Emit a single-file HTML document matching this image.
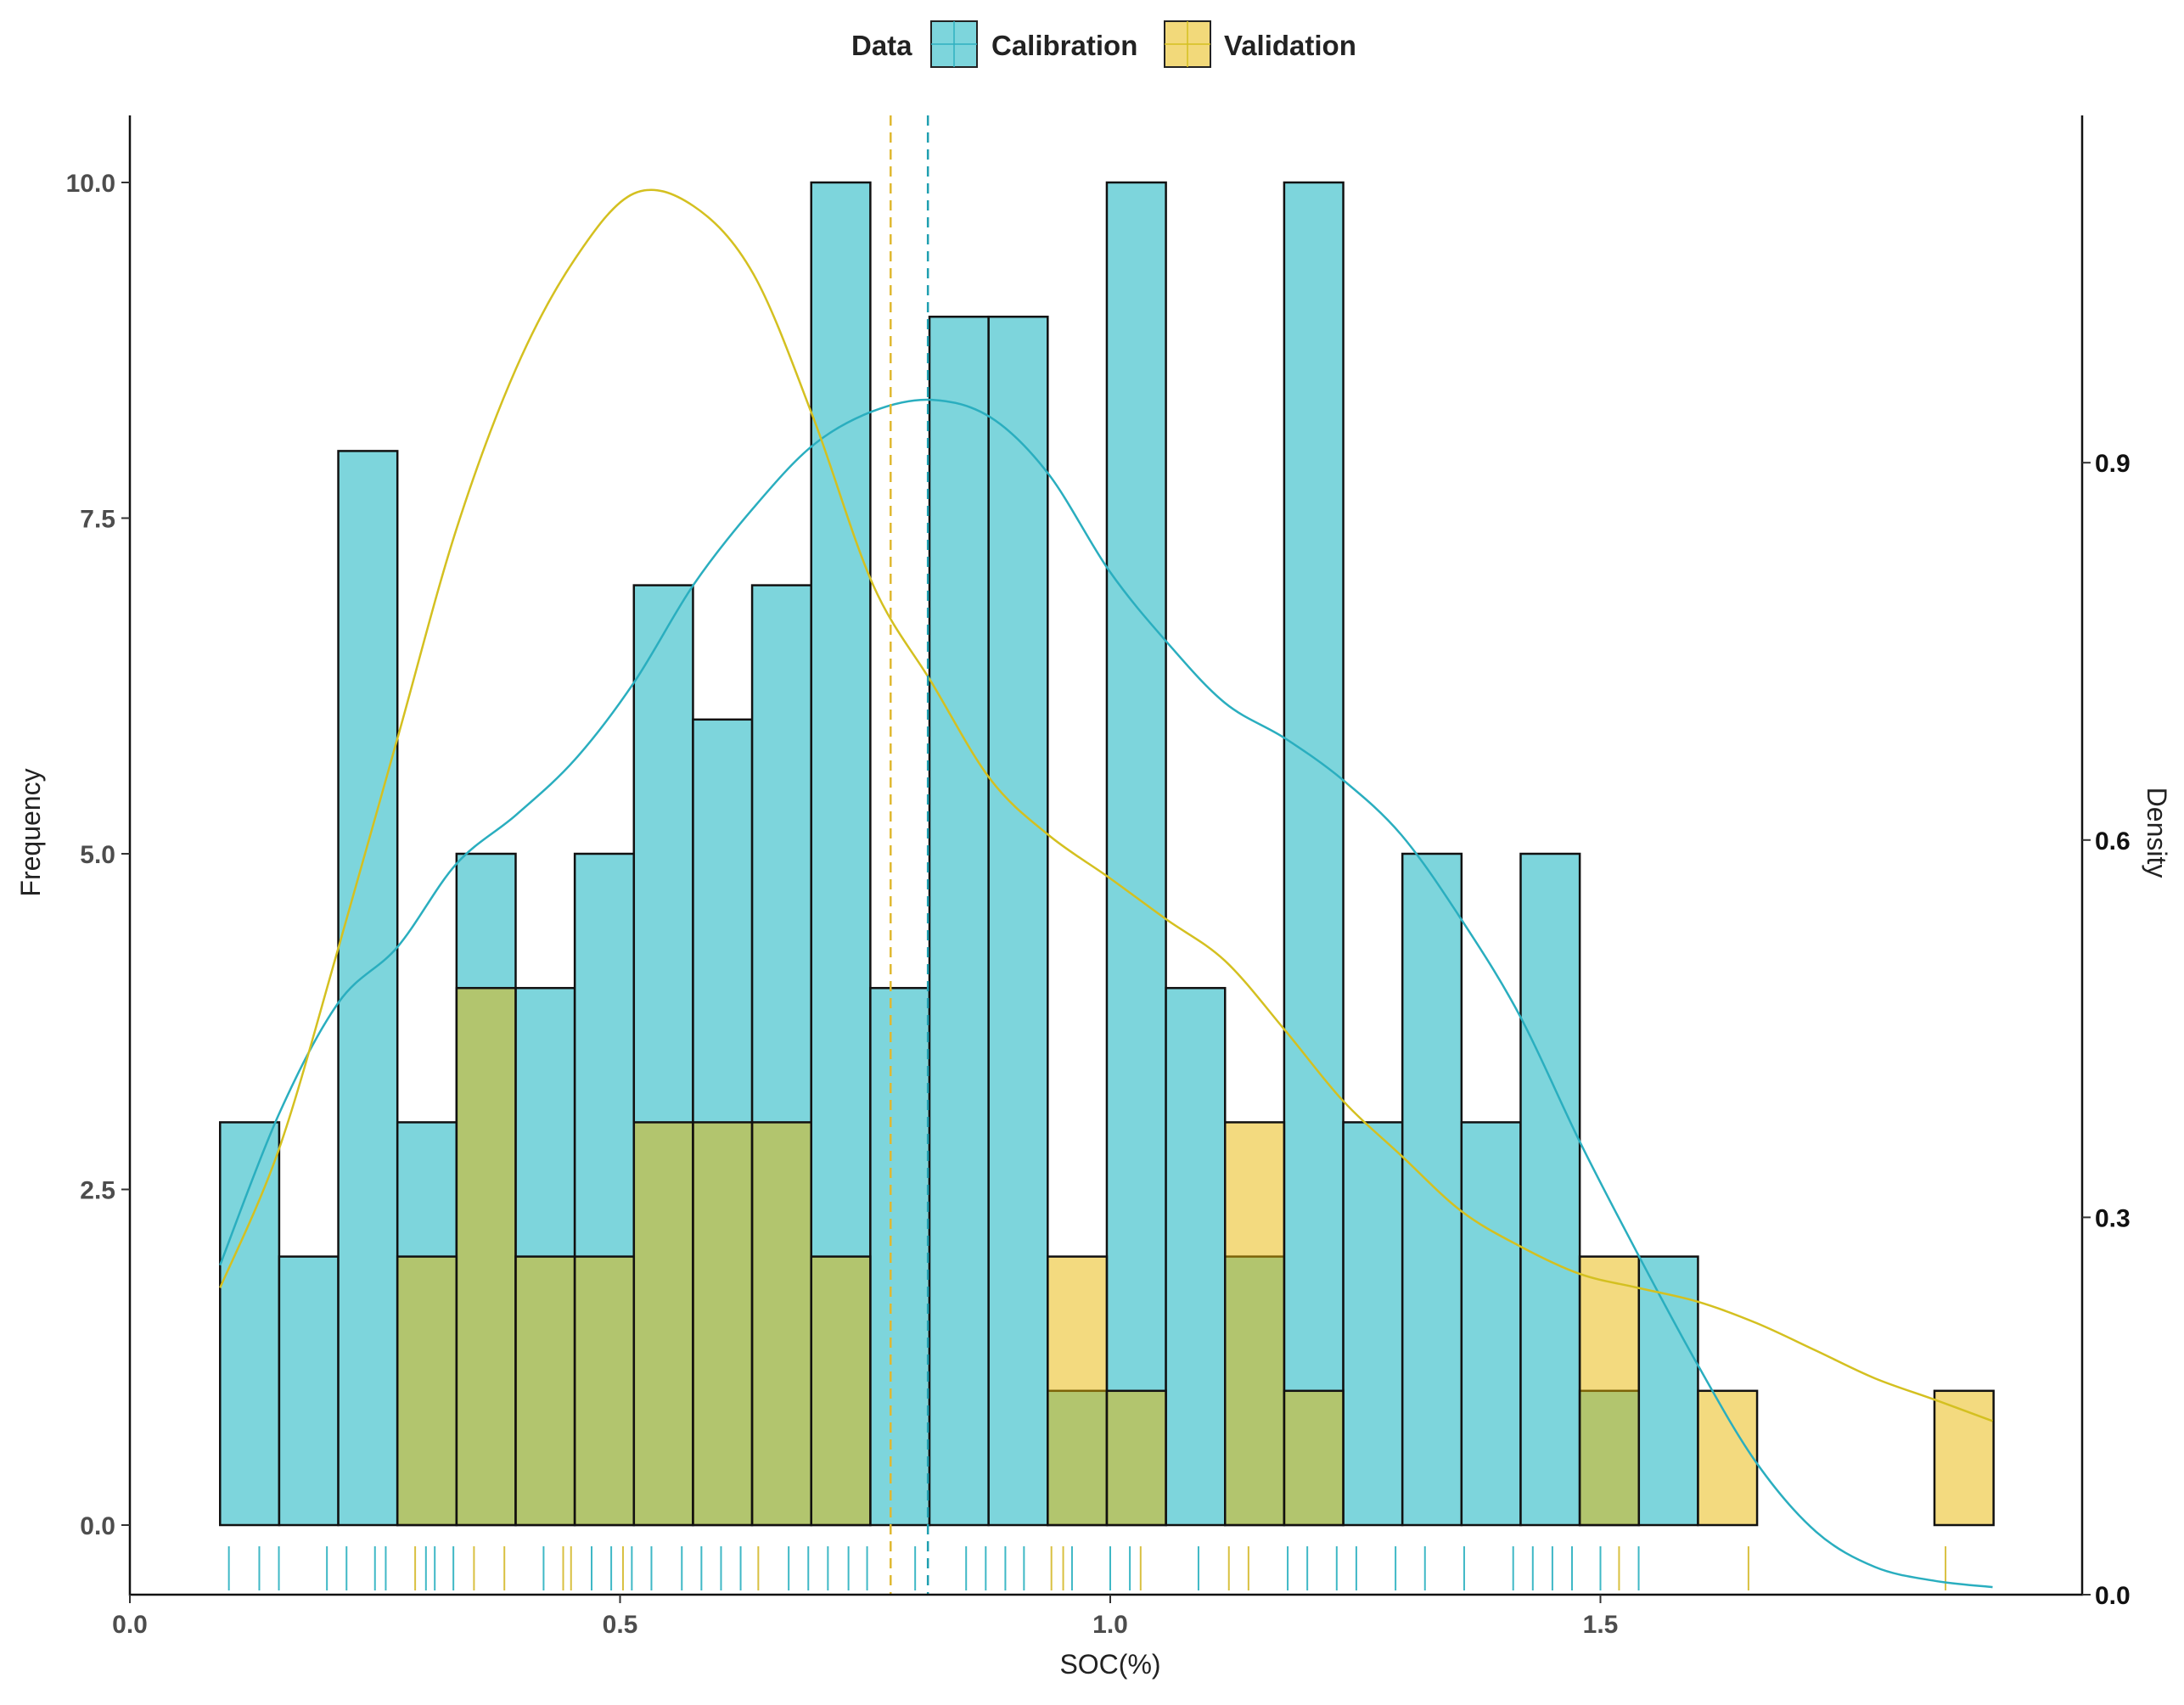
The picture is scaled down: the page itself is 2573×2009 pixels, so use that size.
<!DOCTYPE html>
<html><head><meta charset="utf-8"><style>
html,body{margin:0;padding:0;background:#fff;}
svg{display:block;font-family:"Liberation Sans",sans-serif;}
</style></head><body>
<svg id="chart" width="2573" height="2009" viewBox="0 0 2573 2009" xmlns="http://www.w3.org/2000/svg">
<g id="legend">
  <text x="1003" y="65" font-size="33" font-weight="bold" fill="#222">Data</text>
  <g>
    <rect x="1097" y="25" width="54" height="54" fill="#7dd5dc" stroke="#222" stroke-width="2"/>
    <line x1="1124" y1="25" x2="1124" y2="79" stroke="#2fb0c0" stroke-width="1.5"/>
    <line x1="1097" y1="52" x2="1151" y2="52" stroke="#2fb0c0" stroke-width="1.5"/>
    <text x="1168" y="65" font-size="33" font-weight="bold" fill="#222">Calibration</text>
  </g>
  <g>
    <rect x="1372" y="25" width="54" height="54" fill="#f2d97a" stroke="#222" stroke-width="2"/>
    <line x1="1399" y1="25" x2="1399" y2="79" stroke="#d4c020" stroke-width="1.5"/>
    <line x1="1372" y1="52" x2="1426" y2="52" stroke="#d4c020" stroke-width="1.5"/>
    <text x="1442" y="65" font-size="33" font-weight="bold" fill="#222">Validation</text>
  </g>
</g>
<g id="bars"></g>
<g id="rug"></g>
<g id="lines"></g>
<g id="axes"></g>
</svg>
<script>
const binStart = 0.092;
const binWidth = 0.0603;
const calCounts = [3,2,8,3,5,4,5,7,6,7,10,4,9,9,1,10,4,2,10,3,5,3,5,1,2,0,0,0,0,0];
const valCounts = [0,0,0,2,4,2,2,3,3,3,2,0,0,0,2,1,0,3,1,0,0,0,0,2,0,1,0,0,0,1];
const calDensX = [0.092,0.152,0.213,0.273,0.333,0.394,0.454,0.514,0.575,0.636,0.697,0.758,0.818,0.878,0.937,0.999,1.057,1.117,1.178,1.237,1.297,1.358,1.418,1.479,1.538,1.599,1.659,1.720,1.780,1.841,1.900];
const calDens = [0.262,0.382,0.471,0.515,0.581,0.620,0.664,0.725,0.803,0.864,0.914,0.941,0.950,0.936,0.891,0.814,0.758,0.709,0.681,0.648,0.604,0.537,0.460,0.360,0.271,0.183,0.105,0.050,0.022,0.011,0.006];
const valDensX = [0.092,0.152,0.213,0.273,0.333,0.394,0.454,0.514,0.575,0.636,0.697,0.758,0.818,0.878,0.937,0.999,1.057,1.117,1.178,1.237,1.297,1.358,1.418,1.479,1.538,1.599,1.659,1.720,1.780,1.841,1.900];
const valDens = [0.244,0.354,0.515,0.681,0.847,0.975,1.062,1.114,1.104,1.050,0.936,0.803,0.725,0.648,0.604,0.570,0.537,0.504,0.449,0.393,0.349,0.305,0.277,0.255,0.244,0.233,0.216,0.194,0.172,0.155,0.138];
const calRug = [0.101,0.132,0.152,0.201,0.221,0.250,0.261,0.302,0.311,0.330,0.422,0.471,0.491,0.512,0.532,0.563,0.583,0.603,0.623,0.672,0.692,0.712,0.733,0.752,0.801,0.853,0.873,0.893,0.912,0.961,1.0,1.020,1.090,1.181,1.201,1.231,1.251,1.291,1.321,1.361,1.411,1.431,1.451,1.471,1.500,1.539];
const valRug = [0.291,0.351,0.382,0.442,0.450,0.503,0.641,0.940,0.952,1.031,1.121,1.141,1.519,1.651,1.852];
const calMean = 0.814;
const valMean = 0.776;
const xTicks = [0.0,0.5,1.0,1.5];
const xTickLabels = ["0.0","0.5","1.0","1.5"];
const yTicks = [0,2.5,5,7.5,10];
const yTickLabels = ["0.0","2.5","5.0","7.5","10.0"];
const dTicks = [0,0.3,0.6,0.9];
const dTickLabels = ["0.0","0.3","0.6","0.9"];

const NS = "http://www.w3.org/2000/svg";
const X = v => 153 + v * 1155;
const Y = v => 1797 - v * 158.2;
const D = v => 1879 - v * 1482;
function mk(tag, attrs, parent){const e=document.createElementNS(NS,tag);for(const k in attrs)e.setAttribute(k,attrs[k]);parent.appendChild(e);return e;}
const bars=document.getElementById('bars'), rug=document.getElementById('rug'), lines=document.getElementById('lines'), axes=document.getElementById('axes');

calCounts.forEach((c,i)=>{ if(!c) return;
  const x0=X(binStart+i*binWidth), x1=X(binStart+(i+1)*binWidth);
  const r=mk('rect',{x:x0,y:Y(c),width:x1-x0,height:Y(0)-Y(c),fill:'#7dd5dc',stroke:'#111','stroke-width':2.5},bars);
  
  
});
valCounts.forEach((c,i)=>{ if(!c) return;
  const x0=X(binStart+i*binWidth), x1=X(binStart+(i+1)*binWidth);
  const r=mk('rect',{x:x0,y:Y(c),width:x1-x0,height:Y(0)-Y(c),fill:'rgba(232,182,0,0.5)',stroke:'#111','stroke-width':2.5},bars);
  
  
});
calRug.forEach(v=>{const l=mk('line',{x1:X(v),x2:X(v),y1:1822,y2:1874,stroke:'#3fb8c6','stroke-width':2},rug);
  
  });
valRug.forEach(v=>{const l=mk('line',{x1:X(v),x2:X(v),y1:1822,y2:1874,stroke:'#d9c040','stroke-width':2},rug);
  
  });

function smooth(xs,ys){let p=[];xs.forEach((x,i)=>p.push([X(x),D(ys[i])]));let d='M'+p[0][0]+','+p[0][1];
  for(let i=0;i<p.length-1;i++){const p0=p[i-1]||p[i],p1=p[i],p2=p[i+1],p3=p[i+2]||p2;
    d+=` C${p1[0]+(p2[0]-p0[0])/6},${p1[1]+(p2[1]-p0[1])/6} ${p2[0]-(p3[0]-p1[0])/6},${p2[1]-(p3[1]-p1[1])/6} ${p2[0]},${p2[1]}`;}
  return d;}
const cl=mk('path',{d:smooth(calDensX,calDens),fill:'none',stroke:'#2aaebf','stroke-width':2.5},lines);


const vl=mk('path',{d:smooth(valDensX,valDens),fill:'none',stroke:'#d4c020','stroke-width':2.5},lines);


const vm=mk('line',{x1:X(valMean),x2:X(valMean),y1:136,y2:1879,stroke:'#e0b830','stroke-width':2.5,'stroke-dasharray':'12,8'},lines);


const cm=mk('line',{x1:X(calMean),x2:X(calMean),y1:136,y2:1879,stroke:'#1f9fb0','stroke-width':2.5,'stroke-dasharray':'12,8'},lines);



const ax=mk('path',{d:'M153,136 V1879 H2453 V136',fill:'none',stroke:'#111','stroke-width':2.5},axes);


xTicks.forEach((v,i)=>{mk('line',{x1:X(v),x2:X(v),y1:1879,y2:1889,stroke:'#333','stroke-width':2},axes);
  const t=mk('text',{x:X(v),y:1924,'text-anchor':'middle','font-size':30,'font-weight':'bold',fill:'#4d4d4d'},axes);t.textContent=xTickLabels[i];
  
  });
yTicks.forEach((v,i)=>{mk('line',{x1:143,x2:153,y1:Y(v),y2:Y(v),stroke:'#333','stroke-width':2},axes);
  const t=mk('text',{x:136,y:Y(v)+11,'text-anchor':'end','font-size':30,'font-weight':'bold',fill:'#4d4d4d'},axes);t.textContent=yTickLabels[i];
  
  });
dTicks.forEach((v,i)=>{mk('line',{x1:2453,x2:2463,y1:D(v),y2:D(v),stroke:'#333','stroke-width':2},axes);
  const t=mk('text',{x:2468,y:D(v)+11,'font-size':30,'font-weight':'bold',fill:'#111'},axes);t.textContent=dTickLabels[i];
  
  });
const xt=mk('text',{x:1308,y:1972,'text-anchor':'middle','font-size':32,fill:'#222'},axes);xt.textContent='SOC(%)';


const yt=mk('text',{x:0,y:0,'text-anchor':'middle','font-size':32,fill:'#222',transform:'translate(47,981) rotate(-90)'},axes);yt.textContent='Frequency';


const dt=mk('text',{x:0,y:0,'text-anchor':'middle','font-size':32,fill:'#222',transform:'translate(2530,981) rotate(90)'},axes);dt.textContent='Density';


</script>
</body></html>
